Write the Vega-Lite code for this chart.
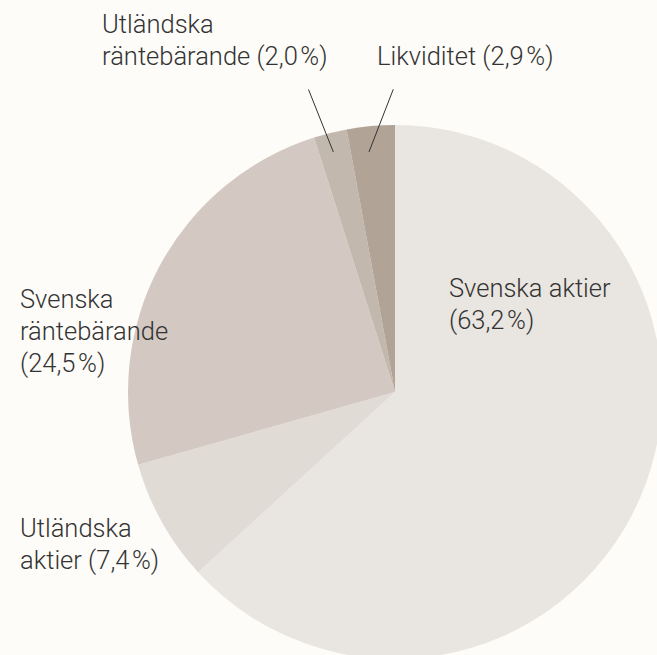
{
  "$schema": "https://vega.github.io/schema/vega-lite/v6.json",
  "width": 657,
  "height": 655,
  "autosize": {"type": "none"},
  "padding": 0,
  "background": "#fdfcf8",
  "config": {"view": {"stroke": null}},
  "datasets": {
    "andelar": [
      {"kategori": "Svenska aktier", "andel": 63.2, "ordning": 1},
      {"kategori": "Utländska aktier", "andel": 7.4, "ordning": 2},
      {"kategori": "Svenska räntebärande", "andel": 24.5, "ordning": 3},
      {"kategori": "Utländska räntebärande", "andel": 2.0, "ordning": 4},
      {"kategori": "Likviditet", "andel": 2.9, "ordning": 5}
    ],
    "etiketter": [
      {"text": "Utländska\nräntebärande (2,0\u200a%)", "lx": -1.097, "ly": 1.345},
      {"text": "Likviditet (2,9\u200a%)", "lx": -0.0674, "ly": 1.2247},
      {"text": "Svenska aktier\n(63,2\u200a%)", "lx": 0.2022, "ly": 0.3558},
      {"text": "Svenska\nräntebärande\n(24,5\u200a%)", "lx": -1.4045, "ly": 0.3146},
      {"text": "Utländska\naktier (7,4\u200a%)", "lx": -1.4045, "ly": -0.543}
    ],
    "linjer": [
      {"x1": -0.324, "y1": 1.133, "x2": -0.231, "y2": 0.899},
      {"x1": -0.0064, "y1": 1.1337, "x2": -0.0974, "y2": 0.899}
    ]
  },
  "layer": [
    {
      "data": {"name": "andelar"},
      "transform": [
        {"stack": "andel", "groupby": [], "sort": [{"field": "ordning"}], "as": ["start", "end"]}
      ],
      "mark": {"type": "arc", "outerRadius": 267},
      "encoding": {
        "theta": {"field": "start", "type": "quantitative", "scale": {"domain": [0, 100]}},
        "theta2": {"field": "end"},
        "x": {"datum": 0, "type": "quantitative", "scale": {"domain": [-1.4794, 0.9813], "nice": false, "zero": false}, "axis": null},
        "y": {"datum": 0, "type": "quantitative", "scale": {"domain": [-0.985, 1.468], "nice": false, "zero": false}, "axis": null},
        "color": {
          "field": "kategori",
          "type": "nominal",
          "scale": {
            "domain": ["Svenska aktier", "Utländska aktier", "Svenska räntebärande", "Utländska räntebärande", "Likviditet"],
            "range": ["#e9e5e0", "#e1dbd6", "#d3c9c2", "#c3b8ae", "#b2a397"]
          },
          "legend": null
        }
      }
    },
    {
      "data": {"name": "linjer"},
      "mark": {"type": "rule", "color": "#333333", "strokeWidth": 1},
      "encoding": {
        "x": {"field": "x1", "type": "quantitative", "scale": {"domain": [-1.4794, 0.9813], "nice": false, "zero": false}, "axis": null},
        "y": {"field": "y1", "type": "quantitative", "scale": {"domain": [-0.985, 1.468], "nice": false, "zero": false}, "axis": null},
        "x2": {"field": "x2"},
        "y2": {"field": "y2"}
      }
    },
    {
      "data": {"name": "etiketter"},
      "mark": {"type": "text", "align": "left", "baseline": "alphabetic", "lineBreak": "\n", "lineHeight": 32, "font": "Roboto", "fontWeight": 300, "fontSize": 25.5, "color": "#333333"},
      "encoding": {
        "x": {"field": "lx", "type": "quantitative", "scale": {"domain": [-1.4794, 0.9813], "nice": false, "zero": false}, "axis": null},
        "y": {"field": "ly", "type": "quantitative", "scale": {"domain": [-0.985, 1.468], "nice": false, "zero": false}, "axis": null},
        "text": {"field": "text"}
      }
    }
  ]
}
